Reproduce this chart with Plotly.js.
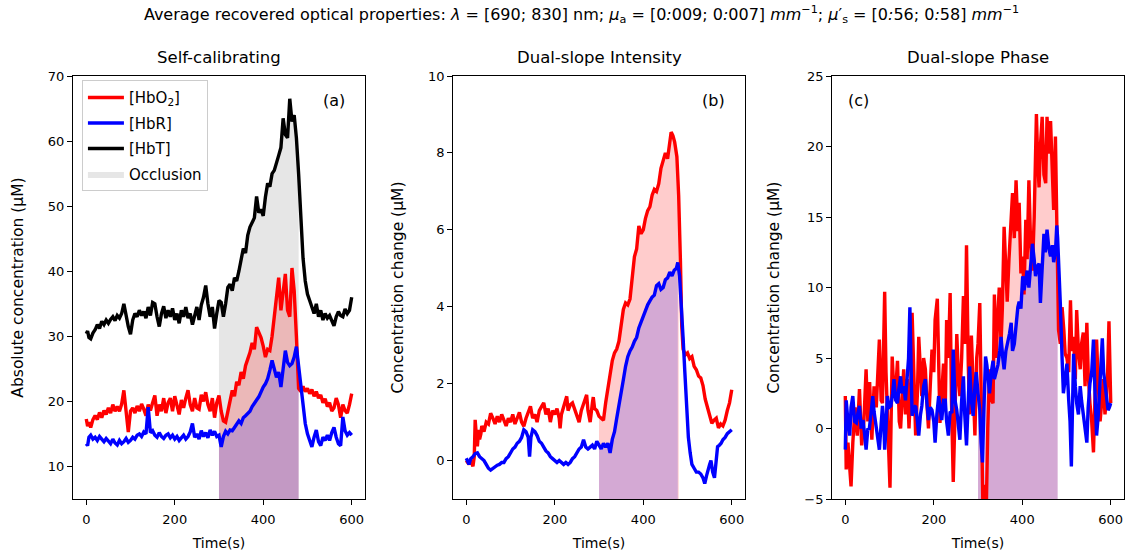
<!DOCTYPE html>
<html>
<head>
<meta charset="utf-8">
<script src="https://cdn.plot.ly/plotly-3.0.1.min.js"></script>
<style>html,body{margin:0;padding:0;background:#fff;}#chart{width:1127px;height:556px;}</style>
</head>
<body>
<div id="chart"></div>
<script>
// ---------- Panel (a): Self-calibrating, absolute concentration (uM) ----------
const tA = [0,3,6,10,15,20,25,30,35,40,45,50,55,60,65,70,75,80,85,90,95,100,105,110,115,120,125,130,135,140,145,150,155,160,165,170,175,180,185,190,195,200,205,210,215,220,225,230,235,240,245,250,255,260,265,270,275,280,285,290,295,300,305,310,315,320,325,330,335,340,345,350,355,360,365,370,375,380,385,390,395,400,405,410,415,420,425,430,435,440,445,450,455,460,465,470,475,480,485,490,495,500,505,510,515,520,525,530,535,540,545,550,555,560,565,570,575,580,585,590,595,600];
const hbtA = [30.4,30.8,29.8,29.6,30.5,31.0,31.8,31.2,32.3,31.8,32.5,32.0,32.6,33.0,32.4,33.2,32.8,33.5,35.0,33.0,31.5,30.3,32.5,33.5,33.0,34.0,33.2,33.8,32.8,34.5,33.2,35.2,35.0,33.0,31.5,33.5,34.6,32.8,34.0,33.0,34.3,32.5,33.5,32.0,34.0,33.0,34.5,32.8,33.5,31.8,33.2,34.5,32.5,34.8,36.0,37.8,35.0,33.0,34.5,31.2,33.5,35.5,35.2,33.0,35.0,37.5,38.0,37.0,39.0,38.5,40.0,41.5,43.5,42.8,45.5,46.8,47.5,48.2,51.5,49.0,49.5,48.5,51.4,53.5,53.0,55.0,55.5,56.5,57.8,59.0,63.5,61.0,60.5,66.5,63.0,64.0,60.5,55.0,48.0,42.0,38.5,36.5,35.5,34.5,33.5,35.0,33.0,34.0,32.5,33.5,32.8,33.2,32.2,31.6,33.0,33.8,33.2,33.0,34.2,33.5,34.0,36.0];
const hbo2A = [17.3,16.2,16.8,16.0,17.2,17.8,17.2,18.3,17.5,18.6,18.0,19.0,18.2,19.5,18.5,19.2,18.5,19.6,21.7,18.0,15.3,18.5,19.0,18.2,19.3,18.5,19.6,18.8,17.8,19.5,18.6,19.8,20.9,17.8,19.5,18.5,20.5,18.2,19.8,20.5,18.5,20.8,19.2,18.0,20.2,19.0,20.5,21.7,19.5,18.5,20.5,19.0,18.8,21.0,20.0,21.4,19.5,18.5,20.5,17.5,19.8,20.9,18.5,17.0,16.8,18.5,20.5,21.7,20.8,23.0,22.5,24.5,23.5,25.5,26.5,27.5,29.0,28.0,31.4,30.5,29.8,28.5,26.8,28.0,27.8,30.0,33.0,35.0,39.0,34.0,36.5,39.6,34.0,33.0,40.5,37.0,30.0,22.0,21.5,22.3,21.5,22.0,21.2,21.8,20.8,21.5,20.5,21.0,19.8,20.4,19.2,19.8,18.5,19.0,20.5,19.5,17.5,19.5,18.6,18.2,19.5,21.2];
const hbrA = [13.5,13.2,14.5,14.8,14.2,14.5,14.0,14.6,14.2,13.8,14.3,13.9,13.5,14.2,13.6,13.3,14.0,13.5,13.8,14.3,13.7,14.0,14.5,14.2,14.8,15.0,14.6,15.3,15.0,19.1,15.2,15.5,14.8,14.5,15.2,14.6,14.3,14.8,15.0,14.4,14.8,14.2,14.6,14.0,14.5,14.8,14.2,14.6,15.3,16.6,14.5,15.0,14.2,15.5,14.6,15.2,14.4,15.6,14.8,15.4,14.6,14.8,13.0,14.6,15.4,15.0,15.6,15.5,16.0,16.4,17.0,16.6,17.5,17.8,18.1,18.5,19.2,19.8,20.2,20.7,21.5,22.2,22.7,23.5,24.8,26.3,25.0,23.7,24.5,22.2,25.0,27.8,26.0,25.5,25.8,26.8,28.4,25.3,22.5,19.5,16.6,15.0,14.0,13.0,14.5,15.6,13.8,13.2,14.5,14.0,14.8,14.0,15.2,16.0,14.5,13.5,13.2,17.6,15.5,14.8,15.2,14.8];

// ---------- Panel (b): Dual-slope Intensity, concentration change (uM) ----------
const tB_hbo2 = [0,3,6,10,15,18,20,23,25,28,30,33,35,40,45,50,55,60,65,70,75,80,85,90,95,100,105,110,115,120,125,130,135,140,145,150,155,160,165,170,175,180,185,190,195,200,205,210,212,215,220,225,227,230,235,240,245,250,255,260,265,270,272,275,280,285,287,290,295,300,305,310,315,320,325,330,335,340,345,350,355,360,365,370,375,380,385,390,395,400,405,410,415,420,425,430,435,440,445,450,455,460,463,467,471,476,480,484,487,490,495,500,505,510,515,520,525,530,535,540,545,550,555,560,565,570,575,580,585,590,595,600];
const hbo2B = [0.0,-0.05,-0.1,0.0,-0.15,0.1,1.06,0.6,0.37,0.8,0.55,0.7,0.9,0.75,1.0,0.95,1.23,1.1,0.95,1.15,1.0,1.2,1.05,0.9,1.1,1.0,1.2,0.95,1.1,1.25,1.0,0.89,1.1,1.25,1.41,1.1,1.2,1.0,1.3,1.4,1.5,1.2,1.35,1.0,1.3,1.2,1.35,1.1,0.84,1.2,1.4,1.6,1.67,1.3,1.45,1.5,1.35,1.15,1.0,1.3,1.45,1.6,1.71,1.3,1.0,1.5,1.65,1.35,1.3,1.15,1.1,1.05,1.5,1.9,2.19,2.6,2.8,2.9,3.1,3.6,3.93,4.1,4.05,4.2,4.8,5.3,5.5,6.1,5.9,6.0,6.3,6.5,6.6,6.9,7.05,7.0,7.2,7.6,7.8,8.0,7.85,8.3,8.54,8.45,8.28,7.9,6.9,5.2,3.5,2.9,2.75,2.8,2.65,2.7,2.45,2.36,2.2,2.15,1.95,1.6,1.4,1.2,0.97,1.05,1.1,0.85,0.95,0.9,1.05,1.3,1.5,1.84];
const tB_hbr = [0,3,6,10,15,20,25,30,35,40,45,50,55,60,65,70,75,80,85,90,95,100,105,110,115,120,125,130,135,140,143,146,150,155,160,165,170,175,180,185,190,195,200,205,210,215,220,225,230,235,240,245,250,255,260,265,270,275,280,285,290,295,300,305,310,315,320,325,330,335,340,345,350,355,360,365,370,375,380,385,390,395,400,405,410,415,420,425,430,435,440,445,450,455,460,465,470,475,478,482,486,490,494,498,502,506,510,515,520,525,530,535,539,543,546,550,553,557,561,565,568,572,576,580,585,590,595,600];
const hbrB = [0.06,-0.05,-0.1,0.05,0.1,0.18,0.2,0.1,0.05,0.0,-0.1,-0.2,-0.25,-0.2,-0.15,-0.12,-0.1,-0.05,-0.05,0.05,0.1,0.2,0.3,0.35,0.45,0.5,0.6,0.8,0.75,0.6,0.1,0.6,0.8,0.75,0.65,0.5,0.45,0.35,0.25,0.2,0.1,0.05,0.0,-0.05,0.0,-0.05,-0.1,-0.05,-0.1,-0.05,0.05,0.1,0.2,0.3,0.35,0.54,0.35,0.3,0.35,0.4,0.3,0.5,0.4,0.3,0.45,0.35,0.45,0.2,0.55,0.75,1.1,1.4,1.7,2.1,2.45,2.7,2.85,2.95,3.1,3.2,3.45,3.6,3.75,3.95,4.05,4.15,4.25,4.3,4.55,4.6,4.45,4.5,4.7,4.75,4.9,4.8,4.95,5.0,5.15,4.8,4.1,3.2,2.3,1.3,0.6,0.2,-0.1,-0.2,-0.3,-0.3,-0.35,-0.45,-0.6,-0.4,-0.25,-0.1,0.0,-0.3,-0.45,0.1,0.36,0.4,0.45,0.54,0.6,0.7,0.75,0.8];

// ---------- Panel (c): Dual-slope Phase, concentration change (uM) ----------
const tC_hbo2 = [0,2,6,10,13,17,22,27,32,37,42,47,51,55,60,65,70,77,81,84,89,92,95,98,101,106,110,114,118,122,125,128,132,136,140,144,148,151,155,159,163,166,170,173,177,181,185,188,192,196,200,203,208,211,214,218,222,226,229,233,237,240,244,248,252,256,259,263,267,271,274,278,281,285,289,293,297,300,304,308,311,315,319,322,326,330,334,337,341,344,348,352,355,359,363,366,370,374,378,382,386,390,393,397,401,404,408,411,415,419,423,427,432,435,438,441,445,449,453,456,460,464,468,471,475,479,480,482,486,490,494,497,501,505,509,512,516,520,523,527,531,534,538,542,546,549,553,557,561,564,568,572,576,580,583,587,590,593,596,600];
const hbo2C = [2.3,-2.9,-1.0,-2.5,-4.1,-1.0,1.5,-0.5,2.8,-1.2,0.5,4.2,0.5,3.3,-0.8,3.0,1.5,6.3,2.0,1.8,9.7,4.0,1.8,-1.5,-4.2,5.1,2.5,2.8,4.8,0.5,0.0,2.0,4.2,1.0,3.5,0.0,3.0,8.2,3.5,-0.5,2.5,6.5,4.0,2.3,5.0,4.2,1.5,0.0,3.0,5.6,4.0,7.7,9.2,3.5,0.4,2.5,4.6,1.5,7.7,5.0,9.6,2.0,-3.8,1.0,6.7,3.5,2.3,5.0,9.4,6.0,13.0,4.5,1.0,6.6,3.0,-0.5,5.0,6.0,8.9,0.5,-5.5,-4.0,-5.2,0.0,4.2,2.0,1.8,9.5,5.0,7.5,10.0,6.0,8.5,14.3,10.5,9.0,12.0,14.5,16.7,13.5,17.6,14.0,16.0,11.0,12.2,9.5,14.8,12.0,17.6,13.0,11.2,15.0,22.3,19.0,17.1,20.0,22.1,18.0,17.4,22.1,19.5,21.8,18.3,15.5,20.7,11.2,9.0,7.0,6.0,8.6,7.0,5.3,5.0,4.0,9.1,5.5,6.5,3.5,8.4,5.5,4.2,6.0,6.8,3.0,7.5,4.0,1.8,0.5,-1.7,2.0,6.3,3.0,0.5,2.0,3.5,1.0,2.0,4.0,7.6,1.8];
const tC_hbr = [0,2,6,10,13,17,21,25,29,32,36,40,44,47,51,54,58,62,65,69,73,77,81,84,87,89,92,95,99,103,107,110,114,118,121,125,128,132,136,140,143,146,148,151,155,159,163,166,170,173,177,181,184,188,192,196,200,203,207,211,214,218,222,226,229,233,237,241,244,248,252,256,259,263,267,270,274,278,281,285,289,293,296,300,304,307,310,313,317,320,323,326,330,334,337,341,345,349,352,356,359,363,367,371,375,378,382,386,390,393,397,401,404,408,411,415,419,423,427,430,434,438,441,445,449,452,456,460,464,468,471,475,478,480,482,486,490,493,497,501,505,508,511,514,516,520,523,527,531,534,538,542,546,549,553,557,561,564,568,572,576,579,581,584,587,590,594,597,600];
const hbrC = [-1.5,2.0,0.5,-0.5,1.5,2.3,0.5,0.4,1.2,1.6,0.0,0.6,-0.5,-1.5,0.0,-0.1,1.0,2.3,1.2,0.2,-0.8,-1.5,0.3,1.6,0.5,-1.5,0.0,2.3,1.5,1.6,2.5,3.5,2.0,1.8,2.8,3.7,2.5,3.0,2.0,3.9,5.0,8.6,5.0,0.9,1.5,1.6,0.5,-0.5,1.0,1.6,3.0,3.5,2.0,0.6,1.5,1.3,0.5,-1.0,1.0,2.3,1.5,0.6,2.0,2.0,0.5,-0.5,1.2,1.1,5.6,2.0,1.3,0.0,-0.8,2.0,3.7,1.0,-1.2,2.0,4.4,2.0,0.9,3.0,4.0,2.5,1.3,-1.0,-2.4,1.0,5.1,4.5,3.5,2.5,4.0,4.8,3.5,3.9,4.5,5.5,6.5,5.0,4.2,5.5,6.0,6.7,7.5,5.5,6.0,7.5,8.6,9.0,8.5,10.8,9.8,10.5,11.2,10.0,11.5,13.1,12.0,10.8,11.5,11.7,8.9,11.0,13.8,12.5,14.1,12.8,12.2,13.0,11.8,12.5,14.4,13.5,12.2,8.9,5.0,2.5,3.5,4.6,2.0,0.5,-2.7,1.5,5.3,3.0,1.8,1.0,3.0,2.0,1.1,0.0,-1.0,1.5,3.2,4.0,6.3,3.0,-0.5,1.0,4.0,5.5,6.4,4.0,3.0,2.0,1.3,1.5,1.8];

// ---------- Labels ----------
const occlusion = [300, 480];
const panelTitles = ['Self-calibrating', 'Dual-slope Intensity', 'Dual-slope Phase'];
const panelTags = ['(a)', '(b)', '(c)'];
const yTitles = ['Absolute concentration (μM)', 'Concentration change (μM)', 'Concentration change (μM)'];
const xTitle = 'Time(s)';
const yRanges = [[5, 70], [-1, 10], [-5, 25]];
const yTicks = [[10,20,30,40,50,60,70], [0,2,4,6,8,10], [-5,0,5,10,15,20,25]];
const xTicks = [0, 200, 400, 600];
const names = {hbo2: '[HbO<sub>2</sub>]', hbr: '[HbR]', hbt: '[HbT]', occ: 'Occlusion'};

const FONT = 'DejaVu Sans, Liberation Sans, sans-serif';

// fill polygon under a curve inside the occlusion window, down to the axis floor
function occFill(t, v, floor) {
  const xs = [], ys = [];
  for (let i = 0; i < t.length; i++) {
    if (t[i] >= occlusion[0] && t[i] <= occlusion[1]) { xs.push(t[i]); ys.push(v[i]); }
  }
  const x0 = xs[0], x1 = xs[xs.length - 1];
  return {x: [x0].concat(xs, [x1, x0]), y: [floor].concat(ys, [floor, floor])};
}

const traces = [];
function addFill(t, v, k, color, opts) {
  const p = occFill(t, v, yRanges[k][0]);
  traces.push(Object.assign({
    type: 'scatter', mode: 'lines', x: p.x, y: p.y, fill: 'toself', fillcolor: color,
    line: {width: 0, color: color}, hoverinfo: 'skip', showlegend: false,
    xaxis: k === 0 ? 'x' : 'x' + (k + 1), yaxis: k === 0 ? 'y' : 'y' + (k + 1)
  }, opts || {}));
}
function addLine(t, v, k, color, name, show, rank) {
  traces.push({
    type: 'scatter', mode: 'lines', x: t, y: v, name: name,
    line: {color: color, width: 3.4},
    showlegend: show, legendrank: rank, legendgroup: name,
    xaxis: k === 0 ? 'x' : 'x' + (k + 1), yaxis: k === 0 ? 'y' : 'y' + (k + 1)
  });
}

const GRAY = 'rgba(128,128,128,0.2)', PINK = 'rgba(255,0,0,0.2)', PURP = 'rgba(0,0,255,0.17)';
// panel a
addFill(tA, hbtA, 0, GRAY, {showlegend: true, name: names.occ, legendrank: 4, legendgroup: 'occ'});
addFill(tA, hbo2A, 0, PINK);
addFill(tA, hbrA, 0, PURP);
addLine(tA, hbo2A, 0, '#ff0000', names.hbo2, true, 1);
addLine(tA, hbrA, 0, '#0000ff', names.hbr, true, 2);
addLine(tA, hbtA, 0, '#000000', names.hbt, true, 3);
// panel b
addFill(tB_hbo2, hbo2B, 1, PINK);
addFill(tB_hbr, hbrB, 1, PURP);
addLine(tB_hbo2, hbo2B, 1, '#ff0000', names.hbo2, false);
addLine(tB_hbr, hbrB, 1, '#0000ff', names.hbr, false);
// panel c
addFill(tC_hbo2, hbo2C, 2, PINK);
addFill(tC_hbr, hbrC, 2, PURP);
addLine(tC_hbo2, hbo2C, 2, '#ff0000', names.hbo2, false);
addLine(tC_hbr, hbrC, 2, '#0000ff', names.hbr, false);

const domains = [[0, 0.2778], [0.3616, 0.6394], [0.7222, 1]];
const layout = {
  width: 1127, height: 556,
  margin: {l: 73, r: 3, t: 76, b: 57},
  paper_bgcolor: '#ffffff', plot_bgcolor: '#ffffff',
  font: {family: FONT, size: 13, color: '#000'},
  title: {
    text: 'Average recovered optical properties: <i>λ</i> = [690; 830] nm; <i>μ</i><sub>a</sub> = [0<i>:</i>009; 0<i>:</i>007] <i>mm</i><sup>−1</sup>; <i>μ</i>′<sub>s</sub> = [0<i>:</i>56; 0<i>:</i>58] <i>mm</i><sup>−1</sup>',
    font: {family: FONT, size: 16, color: '#000'},
    xref: 'container', x: 0.516, xanchor: 'center',
    yref: 'container', y: 0.975, yanchor: 'middle'
  },
  showlegend: true,
  legend: {
    x: 0.0085, y: 0.99, xanchor: 'left', yanchor: 'top',
    bgcolor: 'rgba(255,255,255,0.85)', bordercolor: '#cccccc', borderwidth: 1,
    font: {family: FONT, size: 15, color: '#000'},
    traceorder: 'grouped', tracegroupgap: 3, itemwidth: 36
  },
  annotations: []
};
for (let k = 0; k < 3; k++) {
  const sx = k === 0 ? '' : String(k + 1);
  layout['xaxis' + sx] = {
    domain: domains[k], anchor: 'y' + sx, range: [-30, 630],
    tickmode: 'array', tickvals: xTicks,
    showline: true, mirror: true, linecolor: '#000', linewidth: 1,
    ticks: 'outside', ticklen: 5, tickwidth: 1, tickcolor: '#000', ticklabelstandoff: 3,
    showgrid: false, zeroline: false, tickfont: {size: 13},
    title: {text: xTitle, font: {size: 14}, standoff: 12}
  };
  layout['yaxis' + sx] = {
    domain: [0, 1], anchor: 'x' + sx, range: yRanges[k],
    tickmode: 'array', tickvals: yTicks[k],
    showline: true, mirror: true, linecolor: '#000', linewidth: 1,
    ticks: 'outside', ticklen: 5, tickwidth: 1, tickcolor: '#000',
    showgrid: false, zeroline: false, tickfont: {size: 13},
    title: {text: yTitles[k], font: {size: 15.5}, standoff: 20}
  };
  layout.annotations.push({
    text: panelTitles[k], xref: 'x' + sx + ' domain', yref: 'paper',
    x: 0.5, y: 1.0426, xanchor: 'center', yanchor: 'middle', showarrow: false,
    font: {family: FONT, size: 16.5, color: '#000'}
  });
  layout.annotations.push({
    text: panelTags[k], xref: 'x' + sx + ' domain', yref: 'y' + sx + ' domain',
    x: k === 2 ? 0.089 : 0.893, y: 0.941, xanchor: 'center', yanchor: 'middle', showarrow: false,
    font: {family: FONT, size: 16, color: '#000'}
  });
}

Plotly.newPlot('chart', traces, layout, {displayModeBar: false, staticPlot: true});
</script>
</body>
</html>
